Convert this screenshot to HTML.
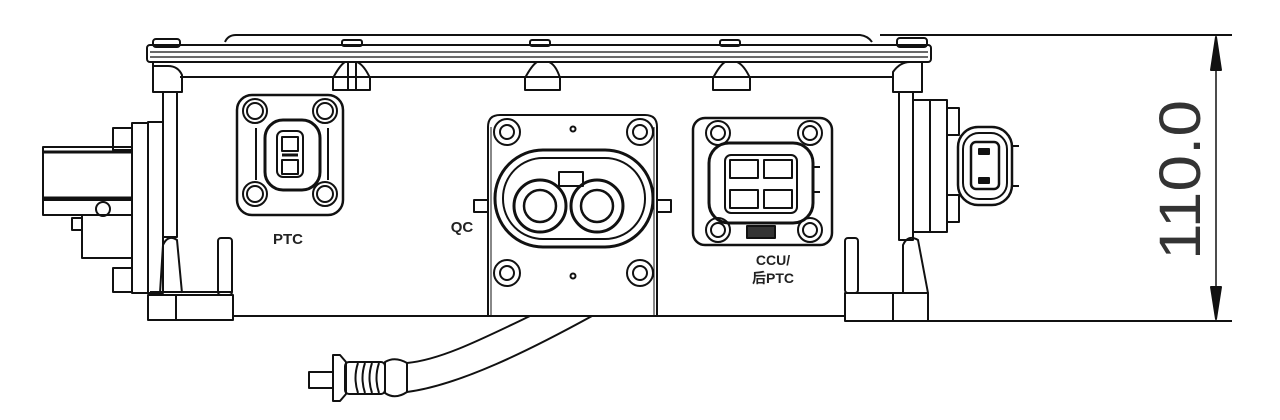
<!DOCTYPE html>
<html><head><meta charset="utf-8"><style>
html,body{margin:0;padding:0;background:#fff;width:1280px;height:420px;overflow:hidden}
svg{display:block}
text{font-family:"Liberation Sans","Noto Sans CJK SC",sans-serif;font-weight:bold;fill:#222}
</style></head><body>
<svg width="1280" height="420" viewBox="0 0 1280 420" xmlns="http://www.w3.org/2000/svg">
<g fill="none" stroke="#111" stroke-width="2" stroke-linejoin="round">
<!-- dimension -->
<line x1="880" y1="35" x2="1232" y2="35"/>
<line x1="928" y1="321" x2="1232" y2="321"/>
<line x1="1216" y1="40" x2="1216" y2="316" stroke-width="1.5"/>
<path d="M1216 37 L1211 70 L1221 70 Z" fill="#111"/>
<path d="M1216 319 L1211 287 L1221 287 Z" fill="#111"/>
<!-- lid -->
<path d="M225 42 Q228 35 236 35 L860 35 Q868 36 872 42"/>
<rect x="147" y="45" width="784" height="17" rx="3"/>
<line x1="150" y1="52" x2="928" y2="52" stroke-width="1.2"/>
<line x1="150" y1="57" x2="928" y2="57" stroke-width="1.2"/>
<rect x="153" y="39" width="27" height="8" rx="3"/>
<rect x="897" y="38" width="30" height="9" rx="3"/>
<rect x="342" y="40" width="20" height="6" rx="2"/>
<rect x="530" y="40" width="20" height="6" rx="2"/>
<rect x="720" y="40" width="20" height="6" rx="2"/>
<!-- body -->
<line x1="180" y1="77" x2="893" y2="77"/>
<line x1="233" y1="316" x2="845" y2="316"/>
<!-- tabs -->
<path d="M333 90 L333 78 Q340 65 345 62 L357 62 Q364 65 370 78 L370 90 Z"/>
<line x1="348" y1="62" x2="348" y2="90"/><line x1="356" y1="62" x2="356" y2="90"/>
<path d="M525 90 L525 78 Q532 65 537 62 L549 62 Q556 65 560 78 L560 90 Z"/>
<path d="M713 90 L713 78 Q720 65 725 62 L737 62 Q744 65 750 78 L750 90 Z"/>
<!-- left column -->
<path d="M153 62 L153 92 L182 92 L182 75 Q178 66 168 66 L153 66"/>
<rect x="163" y="92" width="14" height="145"/>
<path d="M160 293 L163 245 Q168 234 177 240 L182 293"/>
<rect x="148" y="295" width="85" height="25"/>
<line x1="176" y1="295" x2="176" y2="320"/>
<rect x="218" y="238" width="14" height="57" rx="3"/>
<line x1="150" y1="292" x2="232" y2="292"/>
<!-- left connector -->
<rect x="148" y="122" width="15" height="171"/>
<rect x="132" y="123" width="16" height="170"/>
<rect x="113" y="128" width="19" height="22"/>
<rect x="113" y="268" width="19" height="24"/>
<rect x="43" y="147" width="89" height="53"/>
<line x1="43" y1="152" x2="132" y2="152" stroke-width="3"/>
<line x1="43" y1="198" x2="132" y2="198" stroke-width="3"/>
<rect x="43" y="200" width="89" height="15"/>
<circle cx="103" cy="209" r="7" fill="#fff"/>
<rect x="82" y="215" width="50" height="43"/>
<rect x="72" y="218" width="10" height="12"/>
<!-- right column -->
<path d="M893 92 L893 72 Q900 62 910 62 L922 62 L922 92 Z"/>
<rect x="899" y="92" width="14" height="148"/>
<path d="M903 293 L903 245 Q908 234 918 240 L928 293"/>
<rect x="845" y="293" width="83" height="28"/>
<line x1="893" y1="293" x2="893" y2="321"/>
<rect x="845" y="238" width="13" height="55" rx="3"/>
<rect x="913" y="100" width="34" height="132"/>
<line x1="930" y1="100" x2="930" y2="232"/>
<rect x="947" y="108" width="12" height="27"/>
<rect x="947" y="195" width="12" height="27"/>
<rect x="958" y="127" width="54" height="78" rx="20" stroke-width="2.5"/>
<rect x="963" y="133" width="44" height="66" rx="16"/>
<rect x="971" y="142" width="28" height="47" rx="5" stroke-width="2.5"/>
<rect x="979" y="149" width="10" height="5" fill="#111"/>
<rect x="979" y="178" width="10" height="5" fill="#111"/>
<line x1="1012" y1="146" x2="1019" y2="146"/><line x1="1012" y1="186" x2="1019" y2="186"/>
<!-- PTC -->
<rect x="237" y="95" width="106" height="120" rx="15" stroke-width="2.5"/>
<rect x="265" y="120" width="55" height="70" rx="18" stroke-width="3"/>
<rect x="277" y="131" width="26" height="46" rx="6" stroke-width="2"/>
<rect x="282" y="137" width="16" height="14"/><rect x="282" y="160" width="16" height="14"/>
<line x1="282" y1="155" x2="298" y2="155" stroke-width="3"/>
<line x1="256" y1="128" x2="256" y2="180"/><line x1="328" y1="128" x2="328" y2="180"/>
<g stroke-width="2">
<circle cx="255" cy="111" r="12"/><circle cx="255" cy="111" r="8"/>
<circle cx="325" cy="111" r="12"/><circle cx="325" cy="111" r="8"/>
<circle cx="255" cy="194" r="12"/><circle cx="255" cy="194" r="8"/>
<circle cx="325" cy="194" r="12"/><circle cx="325" cy="194" r="8"/>
</g>
<!-- QC -->
<path d="M488 316 L488 127 Q488 115 500 115 L645 115 Q657 115 657 127 L657 316"/>
<line x1="491" y1="127" x2="491" y2="316" stroke-width="1"/><line x1="654" y1="127" x2="654" y2="316" stroke-width="1"/>
<rect x="495" y="150" width="158" height="97" rx="48" stroke-width="3"/>
<rect x="503" y="158" width="142" height="81" rx="40"/>
<circle cx="540" cy="206" r="26" stroke-width="3"/><circle cx="540" cy="206" r="16" stroke-width="2.5"/>
<circle cx="597" cy="206" r="26" stroke-width="3"/><circle cx="597" cy="206" r="16" stroke-width="2.5"/>
<rect x="559" y="172" width="24" height="14"/>
<rect x="474" y="200" width="14" height="12"/><rect x="657" y="200" width="14" height="12"/>
<g stroke-width="2">
<circle cx="507" cy="132" r="13"/><circle cx="507" cy="132" r="7"/>
<circle cx="640" cy="132" r="13"/><circle cx="640" cy="132" r="7"/>
<circle cx="507" cy="273" r="13"/><circle cx="507" cy="273" r="7"/>
<circle cx="640" cy="273" r="13"/><circle cx="640" cy="273" r="7"/>
<circle cx="573" cy="129" r="2.5"/><circle cx="573" cy="276" r="2.5"/>
</g>
<!-- CCU -->
<rect x="693" y="118" width="139" height="127" rx="12" stroke-width="2.5"/>
<rect x="709" y="143" width="104" height="80" rx="20" stroke-width="3"/>
<rect x="725" y="155" width="72" height="58" rx="6"/>
<rect x="730" y="160" width="28" height="18"/><rect x="764" y="160" width="28" height="18"/>
<rect x="730" y="190" width="28" height="18"/><rect x="764" y="190" width="28" height="18"/>
<rect x="747" y="226" width="28" height="12" fill="#333"/>
<line x1="813" y1="167" x2="820" y2="167"/><line x1="813" y1="192" x2="820" y2="192"/>
<g stroke-width="2">
<circle cx="718" cy="133" r="12"/><circle cx="718" cy="133" r="7"/>
<circle cx="810" cy="133" r="12"/><circle cx="810" cy="133" r="7"/>
<circle cx="718" cy="230" r="12"/><circle cx="718" cy="230" r="7"/>
<circle cx="810" cy="230" r="12"/><circle cx="810" cy="230" r="7"/>
</g>
<!-- cable -->
<path d="M530 316 C480 340 440 360 407 363"/>
<path d="M592 316 C530 350 460 385 407 392"/>
<path d="M385 362 Q395 356 407 363 L407 392 Q395 400 385 393 Z"/>
<rect x="345" y="362" width="40" height="32" rx="4"/>
<path d="M358 363 Q353 378 358 393 M365 363 Q360 378 365 393 M372 363 Q367 378 372 393 M379 363 Q374 378 379 393"/>
<path d="M333 355 L340 355 L346 362 L346 394 L340 401 L333 401 Z"/>
<rect x="309" y="372" width="24" height="16"/>
</g>
<text x="288" y="244" font-size="15" text-anchor="middle">PTC</text>
<text x="462" y="232" font-size="15" text-anchor="middle">QC</text>
<text x="773" y="265" font-size="14" text-anchor="middle">CCU/</text>
<text x="773" y="283" font-size="14" text-anchor="middle">后PTC</text>
<text transform="translate(1200,180) rotate(-90)" font-size="58" text-anchor="middle" style="font-weight:normal;fill:#333" textLength="160" lengthAdjust="spacingAndGlyphs">110.0</text>
</svg>
</body></html>
